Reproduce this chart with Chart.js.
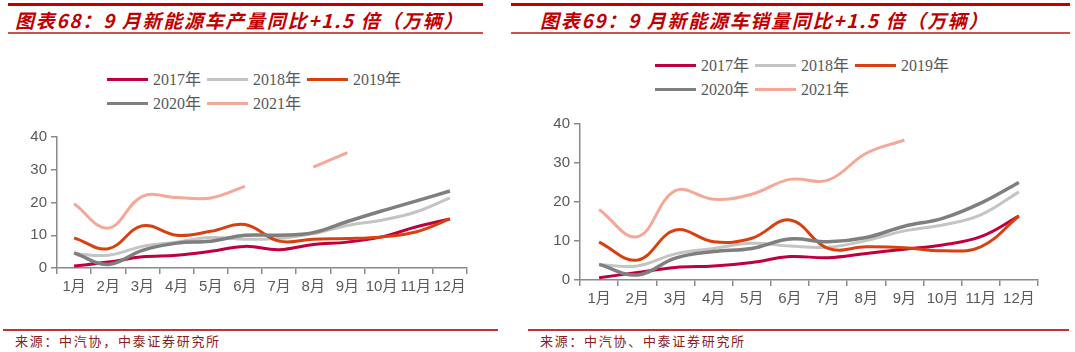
<!DOCTYPE html>
<html>
<head>
<meta charset="utf-8">
<script src="https://cdn.jsdelivr.net/npm/chart.js@4/dist/chart.umd.min.js"></script>
<style>
  html, body { margin: 0; padding: 0; background: #fff; }
  body { width: 1075px; height: 352px; position: relative; overflow: hidden; font-family: "Liberation Sans", "Noto Sans CJK SC", sans-serif; }
  .rule { position: absolute; background: #c00000; }
  .title { position: absolute; top: 7px; font-family: "Noto Sans CJK SC", sans-serif; font-weight: bold; font-style: italic; font-size: 19px; line-height: 26px; color: #c00000; white-space: nowrap; letter-spacing: 1.7px; }
  .source { position: absolute; top: 331px; font-family: "Noto Sans CJK SC", sans-serif; font-size: 13px; color: #8b1c1c; letter-spacing: 1.7px; white-space: nowrap; }
  canvas { position: absolute; }
  .lg { position: absolute; height: 20px; }
  .lg i { position: absolute; left: 0; top: 8px; width: 41px; height: 3px; }
  .lg span { position: absolute; left: 46px; top: 0; font-family: "Liberation Serif", "Noto Sans CJK SC", serif; font-size: 16px; color: #595959; line-height: 20px; white-space: nowrap; }
</style>
</head>
<body>
<div class="rule" style="left:8px;top:3px;width:475px;height:3px;"></div>
<div class="rule" style="left:8px;top:32px;width:475px;height:2px;background:#d05050;"></div>
<div class="title" style="left:15px;">图表68：9 月新能源车产量同比+1.5 倍（万辆）</div>

<div class="rule" style="left:511px;top:3px;width:559px;height:3px;"></div>
<div class="rule" style="left:511px;top:32px;width:559px;height:2px;background:#d05050;"></div>
<div class="title" style="left:540px;">图表69：9 月新能源车销量同比+1.5 倍（万辆）</div>

<canvas id="prodChart" width="500" height="190" style="left:0;top:120px;"></canvas>
<canvas id="salesChart" width="565" height="215" style="left:510px;top:105px;"></canvas>

<div class="rule" style="left:3px;top:329px;width:495px;height:2px;background:#c83030;"></div>
<div class="rule" style="left:528px;top:329px;width:541px;height:2px;background:#c83030;"></div>
<div class="source" style="left:15px;">来源：中汽协，中泰证券研究所</div>
<div class="source" style="left:540px;">来源：中汽协、中泰证券研究所</div>

<script>
// 月份 / 年份
var months = ['1月', '2月', '3月', '4月', '5月', '6月', '7月', '8月', '9月', '10月', '11月', '12月'];
var years = ['2017年', '2018年', '2019年', '2020年', '2021年'];
var yTicks = [0, 10, 20, 30, 40];
var lineColors = ['#c0003c', '#c4c4c4', '#d9400f', '#7f7f7f', '#f4a898'];

// 产量（万辆）
var prod2017 = [0.6, 1.8, 3.4, 3.9, 5.1, 6.6, 5.6, 7.2, 7.9, 9.5, 12.5, 15.0];
var prod2018 = [4.4, 3.9, 6.6, 7.9, 9.3, 8.8, 9.0, 10.5, 13.0, 14.6, 17.1, 21.4];
var prod2019 = [9.2, 5.9, 12.9, 10.0, 11.2, 13.3, 8.2, 8.8, 9.0, 9.5, 11.0, 15.0];
var prod2020 = [4.6, 1.1, 5.4, 7.6, 8.2, 10.0, 10.0, 10.8, 14.2, 17.4, 20.4, 23.5];
var prod2021 = [19.6, 12.2, 21.9, 21.5, 21.4, 24.9, null, 30.8, 35.2, null, null, null];

// 销量（万辆）
var sales2017 = [0.6, 1.9, 3.2, 3.6, 4.5, 6.0, 5.7, 6.8, 7.9, 9.0, 11.1, 16.4];
var sales2018 = [4.0, 3.6, 6.7, 8.1, 9.4, 8.7, 8.4, 10.1, 12.6, 14.1, 16.7, 22.6];
var sales2019 = [9.7, 5.1, 12.8, 9.8, 10.7, 15.4, 8.1, 8.5, 8.3, 7.5, 8.5, 16.4];
var sales2020 = [4.0, 1.3, 5.6, 7.3, 8.1, 10.5, 9.8, 10.9, 13.8, 15.8, 19.7, 25.0];
var sales2021 = [18.1, 11.1, 22.9, 20.7, 22.0, 25.8, 25.6, 32.5, 35.9, null, null, null];

var axisColor = '#8a8a8a';
var tickColor = '#595959';

function buildDatasets(series) {
    return series.map(function(values, i) {
        return {
            label: years[i],
            data: values,
            borderColor: lineColors[i],
            backgroundColor: lineColors[i],
            borderWidth: i === 3 ? 3.5 : 3,
            pointRadius: 0,
            tension: 0.4,
            spanGaps: false,
            fill: false,
            order: 4 - i
        };
    });
}

function buildOptions(pad, yWidth, xHeight) {
    return {
        responsive: false,
        animation: false,
        devicePixelRatio: 1,
        layout: { padding: pad },
        plugins: { legend: { display: false }, tooltip: { enabled: false } },
        scales: {
            x: {
                type: 'category',
                offset: true,
                grid: { display: true, drawOnChartArea: false, offset: true, tickLength: 6, color: axisColor, lineWidth: 1.5 },
                border: { display: true, color: axisColor, width: 1.5 },
                ticks: { color: tickColor, font: { family: 'Liberation Sans, Noto Sans CJK SC', size: 15 }, padding: 4, autoSkip: false, maxRotation: 0, minRotation: 0 },
                afterFit: function(scale) { scale.height = xHeight; }
            },
            y: {
                min: 0,
                max: 40,
                afterBuildTicks: function(scale) { scale.ticks = yTicks.map(function(v) { return { value: v }; }); },
                grid: { display: true, drawOnChartArea: false, tickLength: 6, color: axisColor, lineWidth: 1.5 },
                border: { display: true, color: axisColor, width: 1.5 },
                ticks: { color: tickColor, font: { family: 'Liberation Sans', size: 15 }, padding: 4 },
                afterFit: function(scale) { scale.width = yWidth; }
            }
        }
    };
}

function buildLegend(left, top) {
    years.forEach(function(name, i) {
        var el = document.createElement('div');
        el.className = 'lg';
        el.style.left = (left + (i % 3) * 100) + 'px';
        el.style.top = (top + Math.floor(i / 3) * 24) + 'px';
        el.innerHTML = '<i style="background:' + lineColors[i] + '"></i><span>' + name + '</span>';
        document.body.appendChild(el);
    });
}

new Chart(document.getElementById('prodChart'), {
    type: 'line',
    data: { labels: months, datasets: buildDatasets([prod2017, prod2018, prod2019, prod2020, prod2021]) },
    options: buildOptions({ left: 7, right: 33, top: 17, bottom: 0 }, 50, 42)
});

new Chart(document.getElementById('salesChart'), {
    type: 'line',
    data: { labels: months, datasets: buildDatasets([sales2017, sales2018, sales2019, sales2020, sales2021]) },
    options: buildOptions({ left: 20, right: 37, top: 19, bottom: 0 }, 50, 40)
});

buildLegend(107, 70);
buildLegend(655, 56);
</script>
</body>
</html>
